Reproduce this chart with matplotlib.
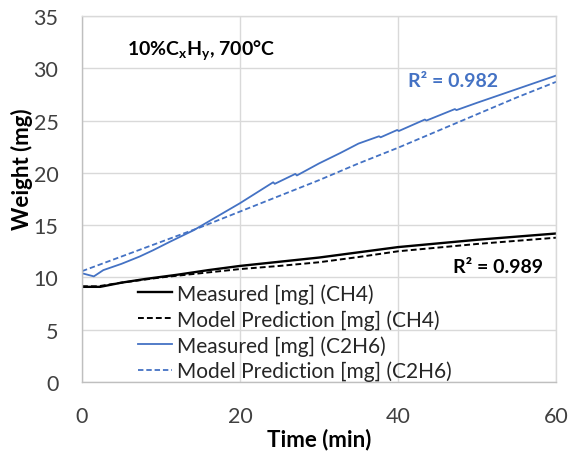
import matplotlib
matplotlib.use("Agg")
import matplotlib.pyplot as plt

plt.rcParams["font.family"] = ["Lato", "DejaVu Sans"]
plt.rcParams["mathtext.fontset"] = "custom"
plt.rcParams["mathtext.rm"] = "Lato"
plt.rcParams["mathtext.bf"] = "Lato:bold"
plt.rcParams["mathtext.it"] = "Lato:italic"

# CH4 run
ch4_time = [0, 2.3, 5, 8, 12, 16, 20, 25, 30, 35, 40, 45, 50, 55, 60]
ch4_measured = [9.1, 9.1, 9.5, 9.85, 10.25, 10.7, 11.1, 11.5, 11.9, 12.4, 12.9, 13.25, 13.6, 13.9, 14.2]
ch4_model_time = [0, 2, 5, 10, 15, 20, 25, 30, 35, 40, 45, 50, 55, 60]
ch4_model = [9.15, 9.15, 9.5, 10.0, 10.4, 10.8, 11.1, 11.45, 11.95, 12.5, 12.85, 13.2, 13.5, 13.8]

# C2H6 run
c2h6_time = [0, 1.5, 2.7, 5, 7.3, 9, 11.1, 14.1, 17.5, 20, 24.2, 24.4, 27.0, 27.2, 30, 32.7,
             35, 37.6, 37.8, 39.9, 40.1, 43.4, 43.6, 47.2, 47.4, 50, 55, 60]
c2h6_measured = [10.4, 10.1, 10.7, 11.3, 12.0, 12.6, 13.4, 14.5, 16.0, 17.1, 19.1, 18.95, 19.9, 19.75,
                 20.9, 21.9, 22.8, 23.5, 23.4, 24.1, 24.0, 25.1, 25.0, 26.1, 26.0, 26.7, 28.0, 29.3]
c2h6_model_time = [0, 5, 10, 15, 20, 25, 30, 35, 40, 45, 50, 55, 60]
c2h6_model = [10.6, 12.0, 13.4, 14.8, 16.3, 17.8, 19.3, 20.9, 22.4, 24.0, 25.6, 27.2, 28.7]

labels = ["Measured [mg] (CH4)", "Model Prediction [mg] (CH4)",
          "Measured [mg] (C2H6)", "Model Prediction [mg] (C2H6)"]
r2_ch4 = "R² = 0.989"
r2_c2h6 = "R² = 0.982"
title = r"10%C$_\mathbf{x}$H$_\mathbf{y}$, 700°C"

blue = "#4472C4"
grid_c = "#D9D9D9"

fig = plt.figure(figsize=(5.69, 4.56), dpi=100)
ax = fig.add_axes([82 / 569, 1 - 383 / 456, 474 / 569, 366 / 456])

ax.plot(ch4_time, ch4_measured, color="black", lw=1.7, label=labels[0])
ax.plot(ch4_model_time, ch4_model, color="black", lw=1.4, ls=(0, (3, 1.6)), label=labels[1])
ax.plot(c2h6_time, c2h6_measured, color=blue, lw=1.3, label=labels[2])
ax.plot(c2h6_model_time, c2h6_model, color=blue, lw=1.3, ls=(0, (3, 1.6)), label=labels[3])

ax.set_xlim(0, 60)
ax.set_ylim(0, 35)
ax.set_xticks([0, 20, 40, 60])
ax.set_yticks(range(0, 36, 5))
ax.grid(True, color=grid_c, lw=1.0)
ax.set_axisbelow(True)
for s in ax.spines.values():
    s.set_color(grid_c)
    s.set_linewidth(1.0)
ax.spines["bottom"].set_color("#BFBFBF")
ax.spines["left"].set_color("#BFBFBF")
ax.tick_params(length=0, labelsize=15.5, colors="#404040")
ax.tick_params(axis="x", pad=17)
ax.tick_params(axis="y", pad=17)

ax.set_xlabel("Time (min)", fontsize=16, fontweight="bold")
ax.set_ylabel("Weight (mg)", fontsize=16, fontweight="bold")
ax.xaxis.set_label_coords(0.5, -(440 - 383) / 366, transform=ax.transAxes)
ax.yaxis.set_label_coords(-(82 - 22) / 474, (383 - 169) / 366, transform=ax.transAxes)
ax.xaxis.label.set_va("center")
ax.yaxis.label.set_va("center")

ax.text(5.7, 31.8, title, fontsize=14, fontweight="bold", va="center", ha="left")
ax.text(41.3, 28.8, r2_c2h6, fontsize=14, fontweight="bold", color=blue, va="center", ha="left")
ax.text(58.4, 11.0, r2_ch4, fontsize=14, fontweight="bold", color="black", va="center", ha="right")

leg = ax.legend(loc="upper left", bbox_to_anchor=(0.118, 0.27), frameon=False,
                fontsize=15, handlelength=1.65, handletextpad=0.22, labelspacing=0.255,
                borderpad=0, borderaxespad=0)
for t in leg.get_texts():
    t.set_color("#262626")

fig.savefig("out.png", dpi=100)
